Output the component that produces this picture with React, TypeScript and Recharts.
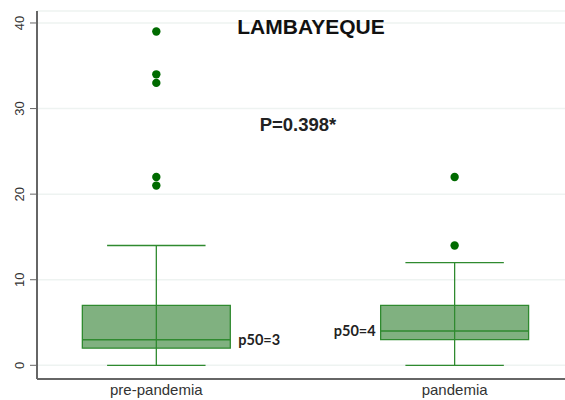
import {
  ComposedChart,
  Scatter,
  XAxis,
  YAxis,
  CartesianGrid,
  ReferenceArea,
  ReferenceLine,
  Label,
} from "recharts";

// groups (x position 1, 2)
const groups = ["pre-pandemia", "pandemia"];
const groupX = [1, 2];
const whiskerLow = [0, 0];
const q1 = [2, 3];
const median = [3, 4];
const q3 = [7, 7];
const whiskerHigh = [14, 12];
const medianLabels = ["p50=3", "p50=4"];
const outliersPre = [21, 22, 33, 34, 39];
const outliersPan = [14, 22];
const yTicks = [0, 10, 20, 30, 40];

const outlierData = [
  ...outliersPre.map((v) => ({ x: groupX[0], y: v })),
  ...outliersPan.map((v) => ({ x: groupX[1], y: v })),
];

const BOX_HALF = 0.248;
const CAP_HALF = 0.165;
const STROKE = "#2f8a2f";
const FILL = "#80b180";
const SANS = "Liberation Sans, Arial, sans-serif";

const YTick = ({ x, y, payload }: any) => (
  <text
    x={x - 4}
    y={y}
    transform={`rotate(-90 ${x - 4} ${y})`}
    textAnchor="middle"
    fontSize={13}
    fill="#333"
    fontFamily={SANS}
  >
    {payload.value}
  </text>
);

export default function App() {
  return (
    <div style={{ position: "absolute", left: 0, top: 0, background: "#fff" }}>
      <ComposedChart
        width={565}
        height={400}
        margin={{ top: 11, right: 0, bottom: 0, left: 0 }}
      >
        <CartesianGrid stroke="#eef3f1" strokeWidth={1.5} vertical={false} />
        <XAxis
          type="number"
          dataKey="x"
          domain={[0.6, 2.37]}
          ticks={groupX}
          tickFormatter={(v) => groups[v - 1]}
          height={21}
          tickLine={false}
          tickSize={3}
          tickMargin={2}
          axisLine={{ stroke: "#666", strokeWidth: 2 }}
          tick={{ fontSize: 15, fill: "#333", fontFamily: SANS }}
        />
        <YAxis
          type="number"
          dataKey="y"
          domain={[-1.6, 41.4]}
          ticks={yTicks}
          width={37}
          tick={<YTick />}
          tickSize={7}
          tickLine={{ stroke: "#666", strokeWidth: 1 }}
          axisLine={{ stroke: "#666", strokeWidth: 2 }}
        />
        {groupX.map((gx, i) => (
          <ReferenceLine
            key={`w${i}`}
            segment={[
              { x: gx, y: whiskerLow[i] },
              { x: gx, y: whiskerHigh[i] },
            ]}
            stroke={STROKE}
            strokeWidth={1.3}
          />
        ))}
        {groupX.map((gx, i) => (
          <ReferenceArea
            key={`b${i}`}
            x1={gx - BOX_HALF}
            x2={gx + BOX_HALF}
            y1={q1[i]}
            y2={q3[i]}
            fill={FILL}
            fillOpacity={1}
            stroke={STROKE}
            strokeWidth={1.3}
          />
        ))}
        {groupX.map((gx, i) => (
          <ReferenceLine
            key={`m${i}`}
            segment={[
              { x: gx - BOX_HALF, y: median[i] },
              { x: gx + BOX_HALF, y: median[i] },
            ]}
            stroke={STROKE}
            strokeWidth={1.5}
          >
            <Label
              value={medianLabels[i]}
              position={i === 0 ? "right" : "left"}
              offset={i === 0 ? 8 : 5}
              fontSize={14.5}
              fontWeight={700}
              fill="#222"
              fontFamily="Lato, Liberation Sans, sans-serif"
            />
          </ReferenceLine>
        ))}
        {groupX.flatMap((gx, i) =>
          [whiskerLow[i], whiskerHigh[i]].map((v, j) => (
            <ReferenceLine
              key={`c${i}${j}`}
              segment={[
                { x: gx - CAP_HALF, y: v },
                { x: gx + CAP_HALF, y: v },
              ]}
              stroke={STROKE}
              strokeWidth={1.3}
            />
          ))
        )}
        <Scatter
          data={outlierData}
          fill="#006b00"
          isAnimationActive={false}
          shape={(p: any) => <circle cx={p.cx} cy={p.cy} r={4.2} fill="#006b00" />}
        />
      </ComposedChart>
      <div
        style={{
          position: "absolute",
          left: 211,
          top: 15,
          width: 200,
          textAlign: "center",
          fontFamily: SANS,
          fontWeight: 700,
          fontSize: 21,
          color: "#111",
        }}
      >
        LAMBAYEQUE
      </div>
      <div
        style={{
          position: "absolute",
          left: 248,
          top: 114,
          width: 100,
          textAlign: "center",
          fontFamily: SANS,
          fontWeight: 700,
          fontSize: 18.5,
          color: "#222",
        }}
      >
        P=0.398*
      </div>
    </div>
  );
}
